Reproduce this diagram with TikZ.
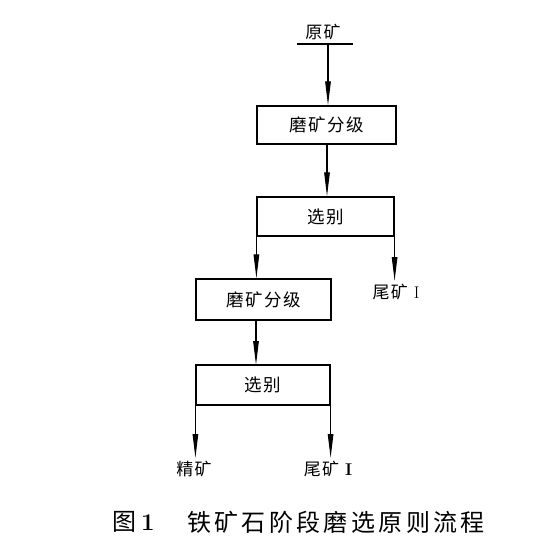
\documentclass[tikz,border=0pt]{standalone}
\usepackage{fontspec}
\newfontfamily\cjk[LetterSpace=8]{Noto Sans CJK SC}
\newfontfamily\cjkcap[LetterSpace=14]{Noto Sans CJK SC}
\usetikzlibrary{arrows.meta}
\begin{document}
\begin{tikzpicture}[x=1pt,y=-1pt,
  box/.style={draw,line width=1.2pt,minimum width=#1,inner sep=0pt,font=\fontsize{17.5}{17.5}\cjk},
  lbl/.style={inner sep=0pt,font=\fontsize{17}{17}\cjk},
  flow/.style={line width=1.1pt,-{Triangle[length=24pt,width=5.5pt]}},
  captext/.style={inner sep=0pt,anchor=west,font=\fontsize{24}{24}\cjkcap}]
\useasboundingbox (0,0) rectangle (545,554);
\node[lbl] (yk) at (323,32) {原矿};
\coordinate (barL) at (297,44);
\coordinate (barR) at (353,44);
\coordinate (barM) at (328,44);
\draw[line width=2.6pt] (barL) -- (barR);
\node[box=139pt,minimum height=38pt] (b1) at (326.5,125) {磨矿分级};
\node[box=137pt,minimum height=39pt] (b2) at (325.5,216.5) {选别};
\node[box=135pt,minimum height=41pt] (b3) at (263.5,299.5) {磨矿分级};
\node[box=134pt,minimum height=40pt] (b4) at (263,385) {选别};
\node[lbl] (t1) at (396,292) {尾矿\hspace{6pt}{\rmfamily I}};
\node[lbl] (c1) at (194,469) {精矿};
\node[lbl] (t2) at (328,469) {尾矿\hspace{6pt}{\rmfamily\bfseries I}};
\draw[flow] (barM) -- (barM |- b1.north);
\draw[flow] (327,144) -- (b2.north -| 327,0);
\draw[flow] (b2.south west) -- (b2.south west |- b3.north);
\coordinate (t1top) at (b2.south east |- 0,281);
\draw[flow] (b2.south east) -- (t1top);
\draw[flow] (256,320) -- (256,365);
\coordinate (c1top) at (b4.south west |- 0,458);
\coordinate (t2top) at (b4.south east |- 0,458);
\draw[flow] (b4.south west) -- (c1top);
\draw[flow] (b4.south east) -- (t2top);
\node[captext] (capno) at (112,522) {图\hspace{5pt}{\rmfamily\bfseries 1}};
\node[captext] (cap) at (187,522) {铁矿石阶段磨选原则流程};
\end{tikzpicture}
\end{document}
